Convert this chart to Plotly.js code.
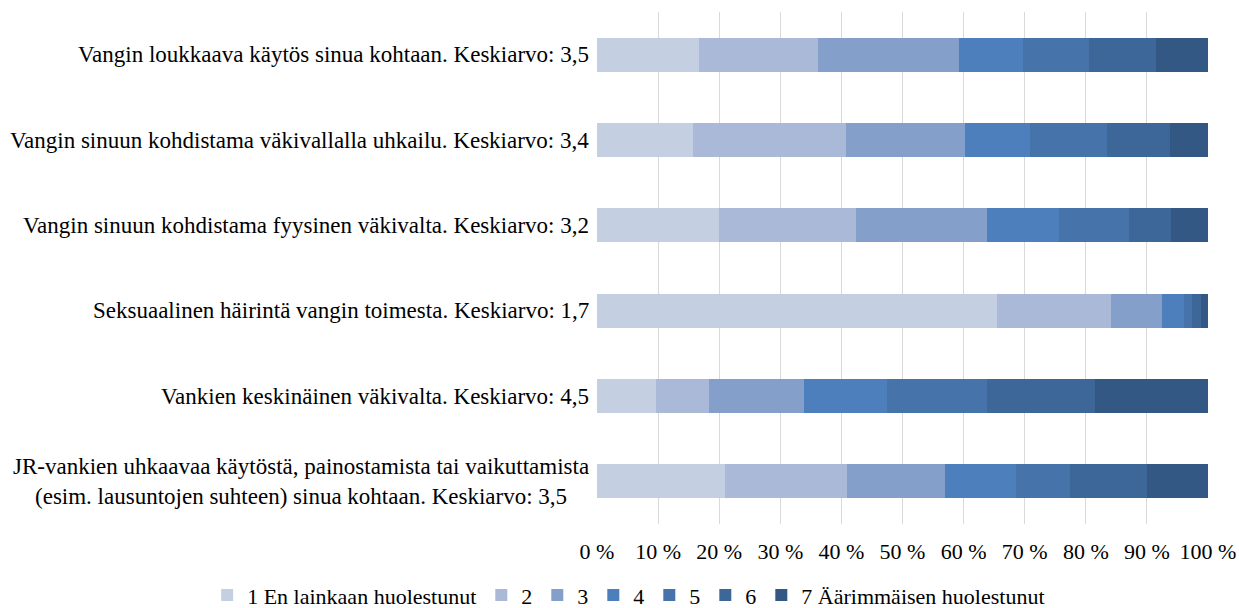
<!DOCTYPE html>
<html>
<head>
<meta charset="utf-8">
<script src="https://cdn.plot.ly/plotly-3.0.1.min.js"></script>
<style>html,body{margin:0;padding:0;background:#fff;}#chart{width:1239px;height:608px;}</style>
</head>
<body>
<div id="chart"></div>
<script>
const categories = [
  "Vangin loukkaava käytös sinua kohtaan. Keskiarvo: 3,5",
  "Vangin sinuun kohdistama väkivallalla uhkailu. Keskiarvo: 3,4",
  "Vangin sinuun kohdistama fyysinen väkivalta. Keskiarvo: 3,2",
  "Seksuaalinen häirintä vangin toimesta. Keskiarvo: 1,7",
  "Vankien keskinäinen väkivalta. Keskiarvo: 4,5",
  "JR-vankien uhkaavaa käytöstä, painostamista tai vaikuttamista<br>(esim. lausuntojen suhteen) sinua kohtaan. Keskiarvo: 3,5"
];
const seriesNames = ["1 En lainkaan huolestunut", "2", "3", "4", "5", "6", "7 Äärimmäisen huolestunut"];
const s1 = [16.7, 15.7, 20.0, 65.4, 9.7, 21.0];
const s2 = [19.5, 25.0, 22.4, 18.8, 8.7, 19.9];
const s3 = [23.1, 19.6, 21.5, 8.3, 15.4, 16.0];
const s4 = [10.5, 10.5, 11.7, 3.5, 13.6, 11.6];
const s5 = [10.8, 12.7, 11.5, 1.3, 16.5, 8.9];
const s6 = [10.9, 10.3, 6.9, 1.5, 17.6, 12.6];
const s7 = [8.5, 6.2, 6.0, 1.2, 18.5, 10.0];
const tickVals = [0, 10, 20, 30, 40, 50, 60, 70, 80, 90, 100];
const tickLabels = ["0 %", "10 %", "20 %", "30 %", "40 %", "50 %", "60 %", "70 %", "80 %", "90 %", "100 %"];
const colors = ["#C5CFE2", "#AAB9D7", "#839FCA", "#4C7FBB", "#4673AA", "#3E6799", "#335884"];

const allSeries = [s1, s2, s3, s4, s5, s6, s7];
const font = "Liberation Serif, Times New Roman, serif";
const data = allSeries.map((vals, i) => ({
  type: "bar",
  orientation: "h",
  name: seriesNames[i],
  x: vals,
  y: categories,
  marker: {color: colors[i], line: {width: 0}},
  hoverinfo: "x+name"
}));

const annotations = categories.map(c => ({
  text: c,
  xref: "paper", x: 0, xanchor: "right", xshift: -6,
  yref: "y", y: c, yanchor: "middle",
  align: "center",
  showarrow: false,
  font: {family: font, size: 23, color: "#000"}
}));

const layout = {
  width: 1239, height: 608,
  margin: {l: 597, r: 31, t: 12, b: 84, autoexpand: false},
  barmode: "stack",
  bargap: 0.6,
  paper_bgcolor: "#fff",
  plot_bgcolor: "#fff",
  font: {family: font, size: 22, color: "#000"},
  xaxis: {
    range: [0, 100],
    tickvals: tickVals,
    ticktext: tickLabels,
    showgrid: true,
    gridcolor: "#D9D9D9",
    gridwidth: 1,
    zeroline: false,
    showline: false,
    ticks: "",
    ticklabelstandoff: 12,
    fixedrange: true,
    automargin: false,
    tickfont: {family: font, size: 22, color: "#000"}
  },
  yaxis: {
    type: "category",
    autorange: "reversed",
    showticklabels: false,
    showgrid: false,
    zeroline: false,
    showline: false,
    ticks: "",
    automargin: false
  },
  annotations: annotations,
  showlegend: true,
  legend: {
    orientation: "h",
    xref: "paper", x: -0.638, xanchor: "left",
    yref: "paper", y: -0.139, yanchor: "middle",
    font: {family: font, size: 22, color: "#000"},
    traceorder: "normal",
    itemwidth: 30
  }
};

Plotly.newPlot("chart", data, layout, {displayModeBar: false, staticPlot: true});
</script>
</body>
</html>
